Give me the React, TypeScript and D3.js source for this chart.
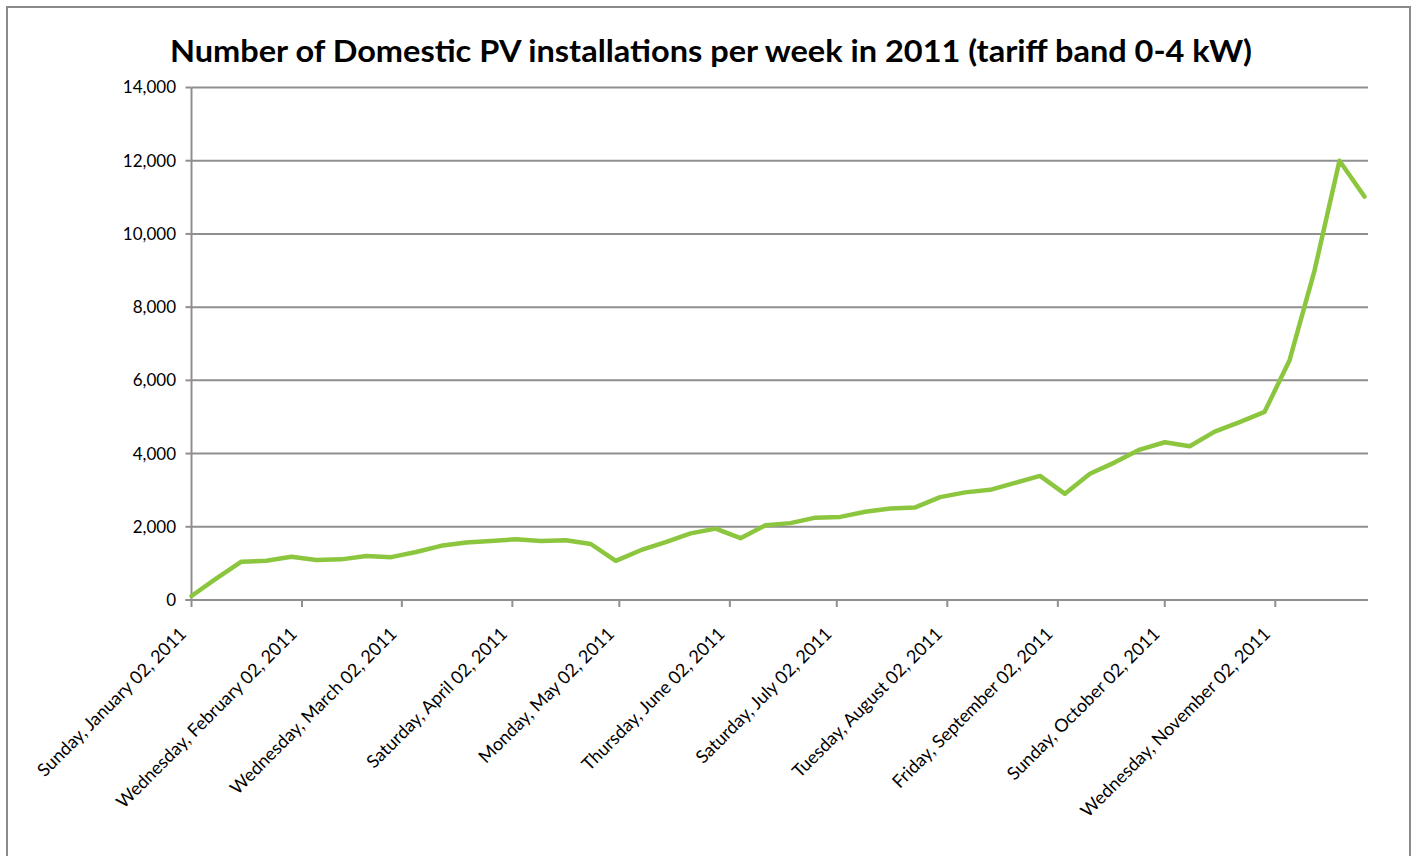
import React from "react";
import * as d3 from "d3";

const TITLE = "Number of Domestic PV installations per week in 2011 (tariff band 0-4 kW)";
const START_DATE = new Date(2011, 0, 2);
const AXIS_END = new Date(2011, 10, 28);
const weeklyInstallations = [
  110, 590, 1045, 1070, 1180, 1090, 1110, 1200, 1170, 1310, 1480, 1570,
  1610, 1660, 1610, 1630, 1530, 1070, 1360, 1580, 1820, 1950, 1690, 2040,
  2100, 2250, 2270, 2410, 2500, 2530, 2810, 2940, 3010, 3200, 3390, 2900,
  3450, 3760, 4110, 4310, 4200, 4600, 4860, 5140, 6550, 9000, 12000, 11020,
];
const tickMonths = [0, 1, 2, 3, 4, 5, 6, 7, 8, 9, 10];
const yTicks = [0, 2000, 4000, 6000, 8000, 10000, 12000, 14000];

const W = 1417;
const H = 856;
const plot = { left: 191.5, right: 1368, top: 87.5, bottom: 600 };
const FONT = "Lato, 'Open Sans', sans-serif";
const GRID = "#8f8f8f";
const LINE = "#8cc63e";

export default function App() {
  const dates = weeklyInstallations.map((_, i) => d3.timeDay.offset(START_DATE, 7 * i));
  const x = d3.scaleTime().domain([START_DATE, AXIS_END]).range([plot.left, plot.right]);
  const y = d3.scaleLinear().domain([0, 14000]).range([plot.bottom, plot.top]);
  const line = d3
    .line<number>()
    .x((_, i) => x(dates[i]))
    .y((d) => y(d));
  const fmtY = d3.format(",");
  const fmtX = d3.timeFormat("%A, %B %d, %Y");
  const xTicks = tickMonths.map((m) => new Date(2011, m, 2));

  return (
    <svg
      width={W}
      height={H}
      style={{ position: "absolute", left: 0, top: 0, background: "#fff" }}
    >
      <rect x={0} y={0} width={W} height={H} fill="#fff" />
      <rect x={7} y={7} width={1403} height={H + 20} fill="none" stroke="#8a8a8a" strokeWidth={2} />
      <text
        x={711}
        y={62}
        textAnchor="middle"
        fontFamily={FONT}
        fontWeight={700}
        fontSize={31}
        textLength={1082}
        lengthAdjust="spacingAndGlyphs"
        fill="#000"
      >
        {TITLE}
      </text>
      {yTicks.map((t) => (
        <g key={t}>
          {t > 0 && (
            <line x1={plot.left} x2={plot.right} y1={y(t)} y2={y(t)} stroke={GRID} strokeWidth={2} />
          )}
          <line x1={plot.left - 6} x2={plot.left} y1={y(t)} y2={y(t)} stroke={GRID} strokeWidth={2} />
          <text
            x={176}
            y={y(t)}
            dy="0.35em"
            textAnchor="end"
            fontFamily={FONT}
            fontSize={17}
            fill="#000"
          >
            {fmtY(t)}
          </text>
        </g>
      ))}
      <line x1={plot.left} x2={plot.left} y1={plot.top} y2={plot.bottom} stroke={GRID} strokeWidth={2} />
      <line x1={plot.left - 6} x2={plot.right} y1={plot.bottom} y2={plot.bottom} stroke={GRID} strokeWidth={2} />
      {xTicks.map((d, i) => (
        <g key={i}>
          <line x1={x(d)} x2={x(d)} y1={plot.bottom} y2={plot.bottom + 7} stroke={GRID} strokeWidth={2} />
          <text
            transform={`translate(${x(d) - 4},${plot.bottom + 35}) rotate(-45)`}
            textAnchor="end"
            fontFamily={FONT}
            fontSize={18}
            fill="#000"
          >
            {fmtX(d)}
          </text>
        </g>
      ))}
      <path
        d={line(weeklyInstallations) || ""}
        fill="none"
        stroke={LINE}
        strokeWidth={4.5}
        strokeLinejoin="round"
        strokeLinecap="round"
      />
    </svg>
  );
}
